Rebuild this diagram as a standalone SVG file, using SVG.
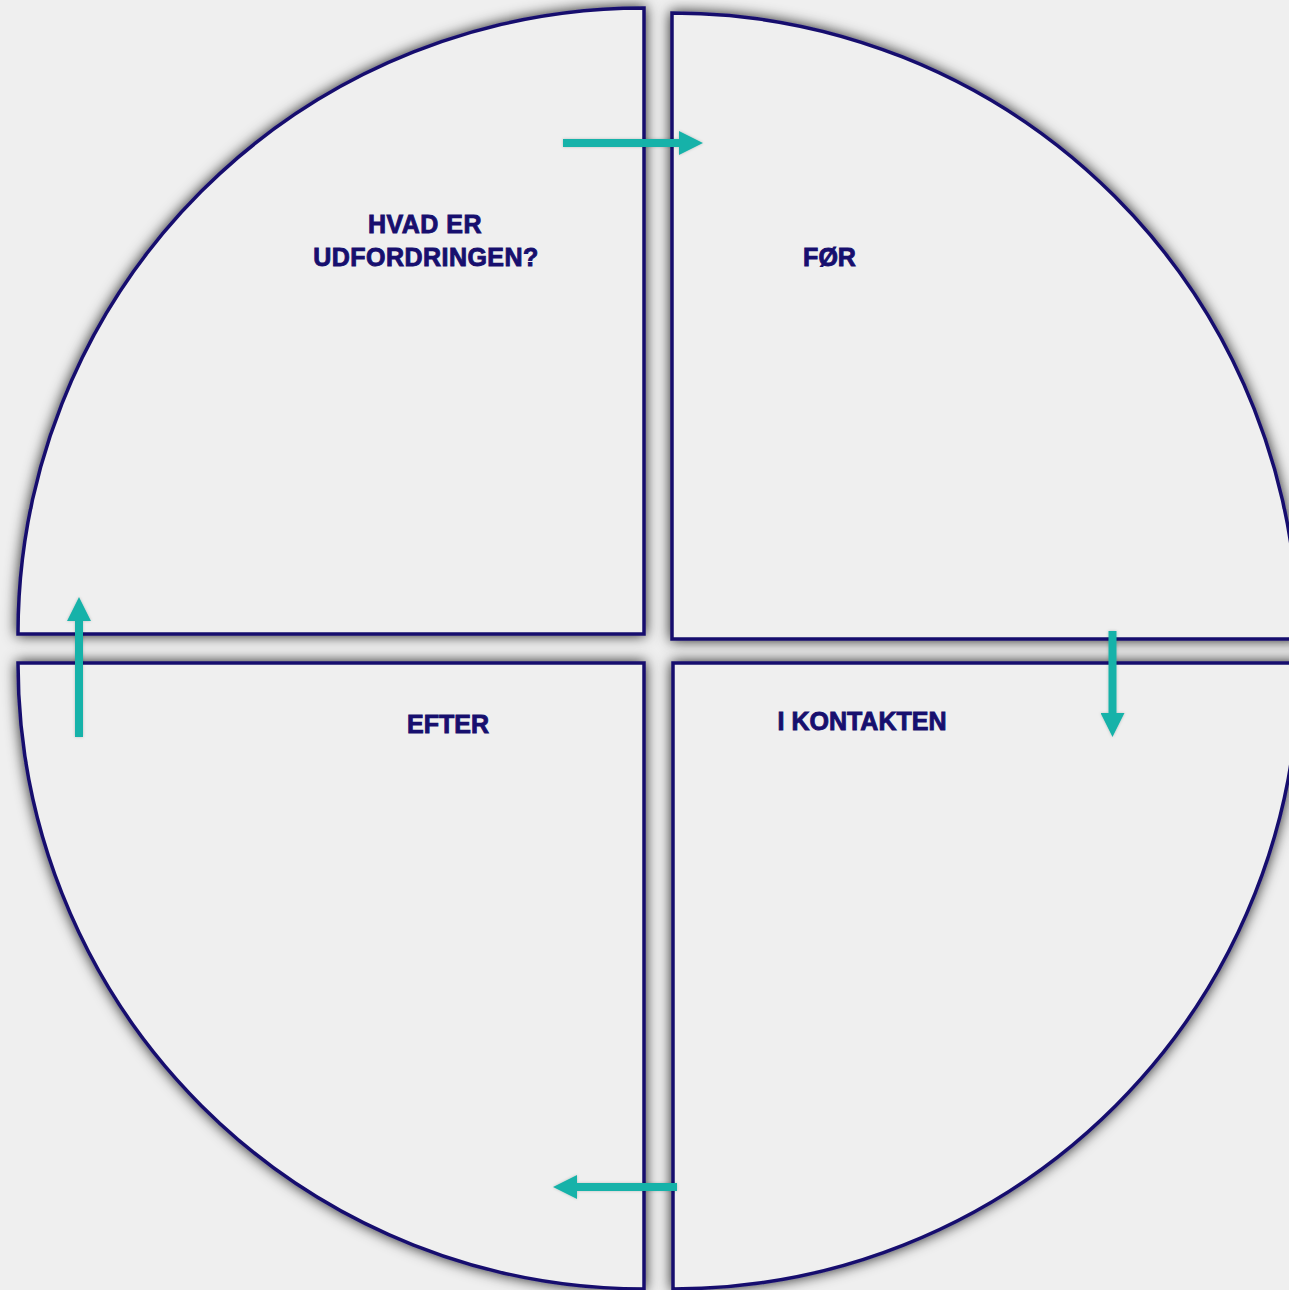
<svg xmlns="http://www.w3.org/2000/svg" width="1289" height="1290" viewBox="0 0 1289 1290">
<style>
.q{fill:#efefef;stroke:#170f6e;stroke-width:3.5;filter:url(#sh)}
.lbl{font-family:"Liberation Sans",Arial,sans-serif;font-weight:bold;font-size:25px;fill:#170f6e;stroke:#170f6e;stroke-width:0.9;text-anchor:middle}
.wide{letter-spacing:0.45px}
.arr{stroke:#18b2a9;stroke-width:8;fill:none;marker-end:url(#ah)}
</style>
<defs>
<filter id="sh" x="-10%" y="-10%" width="120%" height="120%">
<feDropShadow dx="0" dy="0" stdDeviation="7" flood-color="#000" flood-opacity="0.85"/>
</filter>
<filter id="ash" filterUnits="userSpaceOnUse" x="0" y="0" width="1289" height="1290">
<feDropShadow dx="0" dy="0" stdDeviation="1.5" flood-color="#000" flood-opacity="0.2"/>
</filter>
<marker id="ah" viewBox="0 0 24 24" markerUnits="userSpaceOnUse" markerWidth="24" markerHeight="24" refX="0" refY="12" orient="auto">
<path d="M0,0 L24,12 L0,24 Z" fill="#18b2a9"/>
</marker>
</defs>
<rect width="1289" height="1290" fill="#efefef"/>
<g id="q-udfordring">
<path class="q" d="M644,634 L644,8 A626,626 0 0 0 18,634 Z"/>
<text class="lbl wide" x="425" y="233">HVAD ER</text>
<text class="lbl wide" x="426" y="266">UDFORDRINGEN?</text>
</g>
<g id="q-foer">
<path class="q" d="M672,639 L672,13 A626,626 0 0 1 1298,639 Z"/>
<text class="lbl" x="829.5" y="266">FØR</text>
</g>
<g id="q-efter">
<path class="q" d="M644,663 L18,663 A626,626 0 0 0 644,1289 Z"/>
<text class="lbl" x="448" y="733">EFTER</text>
</g>
<g id="q-kontakten">
<path class="q" d="M673,663 L1299,663 A626,626 0 0 1 673,1289 Z"/>
<text class="lbl" x="862" y="730">I KONTAKTEN</text>
</g>
<g id="connectors" filter="url(#ash)">
<line class="arr" x1="563" y1="143" x2="679" y2="143"/>
<line class="arr" x1="1112.5" y1="631" x2="1112.5" y2="713"/>
<line class="arr" x1="677" y1="1187" x2="577" y2="1187"/>
<line class="arr" x1="79" y1="737" x2="79" y2="621"/>
</g>
</svg>
